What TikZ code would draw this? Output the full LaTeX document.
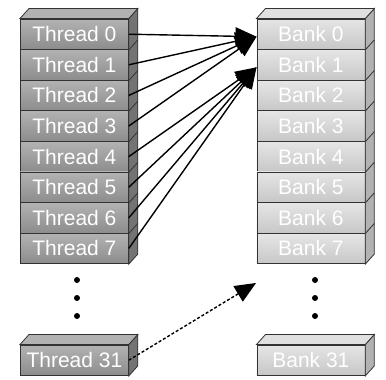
\documentclass[tikz,border=0pt]{standalone}
\usepackage{fontspec}
\setmainfont{Liberation Sans}
\usetikzlibrary{arrows.meta,calc}
\begin{document}
\begin{tikzpicture}[x=1pt,y=-1pt,
  cell/.style={draw=black!80, line width=0.8pt, minimum width=108pt, minimum height=30.6pt,
    inner sep=0pt, text=white, font=\fontsize{21}{21}\selectfont, anchor=north west},
  thread/.style={cell, top color=black!30, bottom color=black!45},
  bank/.style={cell, top color=black!10, bottom color=black!22},
  tside/.style={draw=black!80, line width=0.8pt, fill=black!55},
  ttop/.style={draw=black!80, line width=0.8pt, fill=black!30},
  bside/.style={draw=black!80, line width=0.8pt, fill=black!30},
  btop/.style={draw=black!80, line width=0.8pt, fill=black!12},
  link/.style={line width=1.4pt, -{Triangle[length=21pt,width=18pt]}},
  dlink/.style={link, dash pattern=on 3pt off 2pt},
  dot/.style={fill=black}
]
\useasboundingbox (0,0) rectangle (386,380);

% ---- thread stack ----
\foreach \i in {0,...,7}{
  \node[thread] (t\i) at (20,{18.5+30.6*\i}) {Thread \i};
}
\node[thread] (t31) at (20,344.5) {Thread 31};
% ---- bank stack ----
\foreach \i in {0,...,7}{
  \node[bank] (b\i) at (256.5,{18.5+30.6*\i}) {Bank \i};
}
\node[bank] (b31) at (256.5,344.5) {Bank 31};

% 3D faces
\foreach \s/\e/\sd/\tp in {t0/t7/tside/ttop, t31/t31/tside/ttop, b0/b7/bside/btop, b31/b31/bside/btop}{
  \draw[\sd] (\s.north east) -- ++(9,-10) -- ($(\e.south east)+(9,-10)$) -- (\e.south east) -- cycle;
  \draw[\tp] (\s.north west) -- ++(9,-10) -- ($(\s.north east)+(9,-10)$) -- (\s.north east) -- cycle;
}
\foreach \i in {0,...,6}{
  \draw[black!80, line width=0.8pt] (t\i.south east) -- ++(9,-10);
  \draw[black!80, line width=0.8pt] (b\i.south east) -- ++(9,-10);
}

% dots
\foreach \y in {280,298,316}{
  \fill[dot] (77,\y) circle (3);
  \fill[dot] (315,\y) circle (3);
}

% connectors
\coordinate (a0) at ($(b0.west)+(0,2.5)$);
\coordinate (a1) at ($(b1.west)+(0,2.5)$);
\foreach \i in {0,...,3}{ \draw[link] (t\i.east) -- (a0); }
\foreach \i in {4,...,7}{ \draw[link] (t\i.east) -- (a1); }
\coordinate (a31) at (256,283);
\draw[dlink] (t31.east) -- (a31);
\end{tikzpicture}
\end{document}
